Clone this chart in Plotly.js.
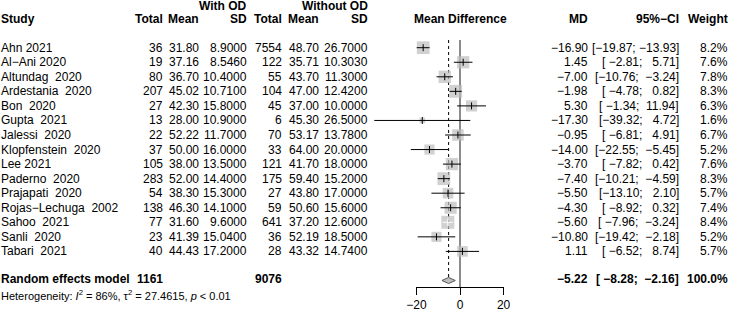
<!DOCTYPE html>
<html>
<head>
<meta charset="utf-8">
<script src="https://cdn.plot.ly/plotly-3.0.1.min.js"></script>
<style>body{margin:0;background:#fff}</style>
</head>
<body>
<div id="forest" style="width:729px;height:314px"></div>
<script>
// study data (with OD vs without OD)
var studies = ['Ahn 2021', 'Al\u2212Ani 2020', 'Altundag\u00a0 2020', 'Ardestania\u00a0 2020', 'Bon\u00a0 2020',
  'Gupta\u00a0 2021', 'Jalessi\u00a0 2020', 'Klopfenstein\u00a0 2020', 'Lee 2021', 'Paderno\u00a0 2020',
  'Prajapati\u00a0 2020', 'Rojas\u2212Lechuga\u00a0 2002', 'Sahoo\u00a0 2021', 'Sanli\u00a0 2020', 'Tabari\u00a0 2021'];
var totalOD = [36, 19, 80, 207, 27, 13, 22, 37, 105, 283, 54, 138, 77, 23, 40];
var meanOD = [31.80, 37.16, 36.70, 45.02, 42.30, 28.00, 52.22, 50.00, 38.00, 52.00, 38.30, 46.30, 31.60, 41.39, 44.43];
var sdOD = [8.9, 8.546, 10.4, 10.71, 15.8, 10.9, 11.7, 16.0, 13.5, 14.4, 15.3, 14.1, 9.6, 15.04, 17.2];
var totalNo = [7554, 122, 55, 104, 45, 6, 70, 33, 121, 175, 27, 59, 641, 36, 28];
var meanNo = [48.70, 35.71, 43.70, 47.00, 37.00, 45.30, 53.17, 64.00, 41.70, 59.40, 43.80, 50.60, 37.20, 52.19, 43.32];
var sdNo = [26.7, 10.303, 11.3, 12.42, 10.0, 26.5, 13.78, 20.0, 18.0, 15.2, 17.0, 15.6, 12.6, 18.5, 14.74];
var md = [-16.90, 1.45, -7.00, -1.98, 5.30, -17.30, -0.95, -14.00, -3.70, -7.40, -5.50, -4.30, -5.60, -10.80, 1.11];
var ciLo = [-19.87, -2.81, -10.76, -4.78, -1.34, -39.32, -6.81, -22.55, -7.82, -10.21, -13.10, -8.92, -7.96, -19.42, -6.52];
var ciHi = [-13.93, 5.71, -3.24, 0.82, 11.94, 4.72, 4.91, -5.45, 0.42, -4.59, 2.10, 0.32, -3.24, -2.18, 8.74];
var weight = [8.2, 7.6, 7.8, 8.3, 6.3, 1.6, 6.7, 5.2, 7.6, 8.3, 5.7, 7.4, 8.4, 5.2, 5.7];
// random effects model
var reTotalOD = 1161, reTotalNo = 9076;
var reMD = -5.22, reLo = -8.28, reHi = -2.16, reWeight = 100.0;
var hetText = 'Heterogeneity: <i>I</i><sup>2</sup> = 86%, \u03c4<sup>2</sup> = 27.4615, <i>p</i> < 0.01';
var axisTicks = [-20, 0, 20];

var W = 729, H = 314;
var FONT = 'Liberation Sans, Arial, sans-serif';
var rows = studies.map(function (s, i) { return i; });
var reRow = 15.92;

function fmt(v, d) { return (v < 0 ? '\u2212' : '') + Math.abs(v).toFixed(d); }
function pad(s, n) { while (s.length < n) s = '\u00a0' + s; return s; }
function ci(lo, hi) { return '[' + pad(fmt(lo, 2), 6) + ';\u00a0' + pad(fmt(hi, 2), 6) + ']'; }

// square side ~ sqrt(weight); line drawn white when CI sits well inside the square
var side = weight.map(function (w) { return 4.45 * Math.sqrt(w); });
var pxPerUnit = 2.18;
var white = md.map(function (m, i) { return (ciHi[i] - ciLo[i]) * pxPerUnit < 0.85 * side[i]; });

function segs(flag) {
  var x = [], y = [];
  rows.forEach(function (r) {
    if (white[r] === flag) { x.push(ciLo[r], ciHi[r], null); y.push(r, r, null); }
  });
  return { x: x, y: y };
}
var blackSeg = segs(false), whiteSeg = segs(true);

var data = [
  { x: md, y: rows, type: 'scatter', mode: 'markers', hoverinfo: 'skip', cliponaxis: false,
    marker: { symbol: 'square', size: side, color: '#bebebe', line: { width: 0 } } },
  { x: blackSeg.x, y: blackSeg.y, type: 'scatter', mode: 'lines', hoverinfo: 'skip', cliponaxis: false,
    line: { color: 'black', width: 1 } },
  { x: whiteSeg.x, y: whiteSeg.y, type: 'scatter', mode: 'lines', hoverinfo: 'skip', cliponaxis: false,
    line: { color: 'white', width: 1 } },
  { x: md, y: rows, type: 'scatter', mode: 'markers', hoverinfo: 'skip', cliponaxis: false,
    marker: { symbol: 'line-ns', size: 5, line: { width: 1, color: white.map(function (w) { return w ? 'white' : 'black'; }) } } },
  { x: [reLo, reMD, reHi, reMD, reLo], y: [reRow + 0.08, reRow - 0.13, reRow + 0.08, reRow + 0.29, reRow + 0.08],
    type: 'scatter', mode: 'lines', fill: 'toself', fillcolor: '#bebebe', hoverinfo: 'skip',
    line: { color: '#555555', width: 1 } },
  { x: [0], y: [null], xaxis: 'x2', yaxis: 'y', type: 'scatter', mode: 'markers', hoverinfo: 'skip' }
];

var ann = [];
function txt(px, row, text, anchor, opts) {
  opts = opts || {};
  ann.push({ xref: 'paper', yref: 'y', x: px / W, y: row, text: text, showarrow: false,
    xanchor: anchor, yanchor: 'middle', borderpad: 0, borderwidth: 0,
    font: { family: FONT, size: opts.size || 12, color: 'black' } });
}
var B = function (s) { return '<b>' + s + '</b>'; };

// headers
txt(247, -2.86, B('With OD'), 'right');
txt(368, -2.86, B('Without OD'), 'right');
txt(1, -2, B('Study'), 'left');
txt(163, -2, B('Total'), 'right');
txt(199, -2, B('Mean'), 'right');
txt(247, -2, B('SD'), 'right');
txt(282, -2, B('Total'), 'right');
txt(319, -2, B('Mean'), 'right');
txt(368, -2, B('SD'), 'right');
txt(460, -2, B('Mean Difference'), 'center');
txt(588, -2, B('MD'), 'right');
txt(679, -2, B('95%\u2212CI'), 'right');
txt(728, -2, B('Weight'), 'right');

rows.forEach(function (r) {
  txt(1, r, studies[r], 'left');
  txt(163, r, String(totalOD[r]), 'right');
  txt(199, r, meanOD[r].toFixed(2), 'right');
  txt(247, r, sdOD[r].toFixed(4), 'right');
  txt(282, r, String(totalNo[r]), 'right');
  txt(319, r, meanNo[r].toFixed(2), 'right');
  txt(368, r, sdNo[r].toFixed(4), 'right');
  txt(588, r, fmt(md[r], 2), 'right');
  txt(679, r, ci(ciLo[r], ciHi[r]), 'right');
  txt(728, r, weight[r].toFixed(1) + '%', 'right');
});

txt(1, reRow, B('Random effects model'), 'left');
txt(163, reRow, B(String(reTotalOD)), 'right');
txt(282, reRow, B(String(reTotalNo)), 'right');
txt(588, reRow, B(fmt(reMD, 2)), 'right');
txt(679, reRow, B(ci(reLo, reHi)), 'right');
txt(728, reRow, B(reWeight.toFixed(1) + '%'), 'right');
txt(1, 16.98, hetText, 'left', { size: 11 });

var zero = 460;
var layout = {
  width: W, height: H,
  margin: { l: 0, r: 0, t: 0, b: 0 },
  showlegend: false,
  paper_bgcolor: 'white', plot_bgcolor: 'rgba(0,0,0,0)',
  font: { family: FONT, size: 12, color: 'black' },
  xaxis: { visible: false, range: [-zero / pxPerUnit, (W - zero) / pxPerUnit], domain: [0, 1], fixedrange: true },
  yaxis: { visible: false, range: [(H - 47.7) / 14.55, -47.7 / 14.55], domain: [0, 1], fixedrange: true },
  xaxis2: {
    domain: [(zero - 20 * pxPerUnit) / W, (zero + 20 * pxPerUnit) / W], range: [-20, 20],
    anchor: 'free', position: 1 - 287 / H,
    tickvals: axisTicks, ticktext: axisTicks.map(function (t) { return fmt(t, 0); }),
    ticks: 'outside', ticklen: 7, tickwidth: 1, tickcolor: 'black',
    showline: true, linecolor: 'black', linewidth: 1,
    showgrid: false, zeroline: false, fixedrange: true,
    tickfont: { family: FONT, size: 12, color: 'black' }
  },
  shapes: [
    { type: 'line', xref: 'x', yref: 'y', x0: 0, x1: 0, y0: -0.53, y1: 16.45, layer: 'below',
      line: { color: '#8c8c8c', width: 2 } },
    { type: 'line', xref: 'x', yref: 'y', x0: reMD, x1: reMD, y0: -0.53, y1: reRow - 0.13, layer: 'below',
      line: { color: 'black', width: 1, dash: 'dot' } }
  ],
  annotations: ann
};

Plotly.newPlot('forest', data, layout, { staticPlot: true, displayModeBar: false });
</script>
</body>
</html>
